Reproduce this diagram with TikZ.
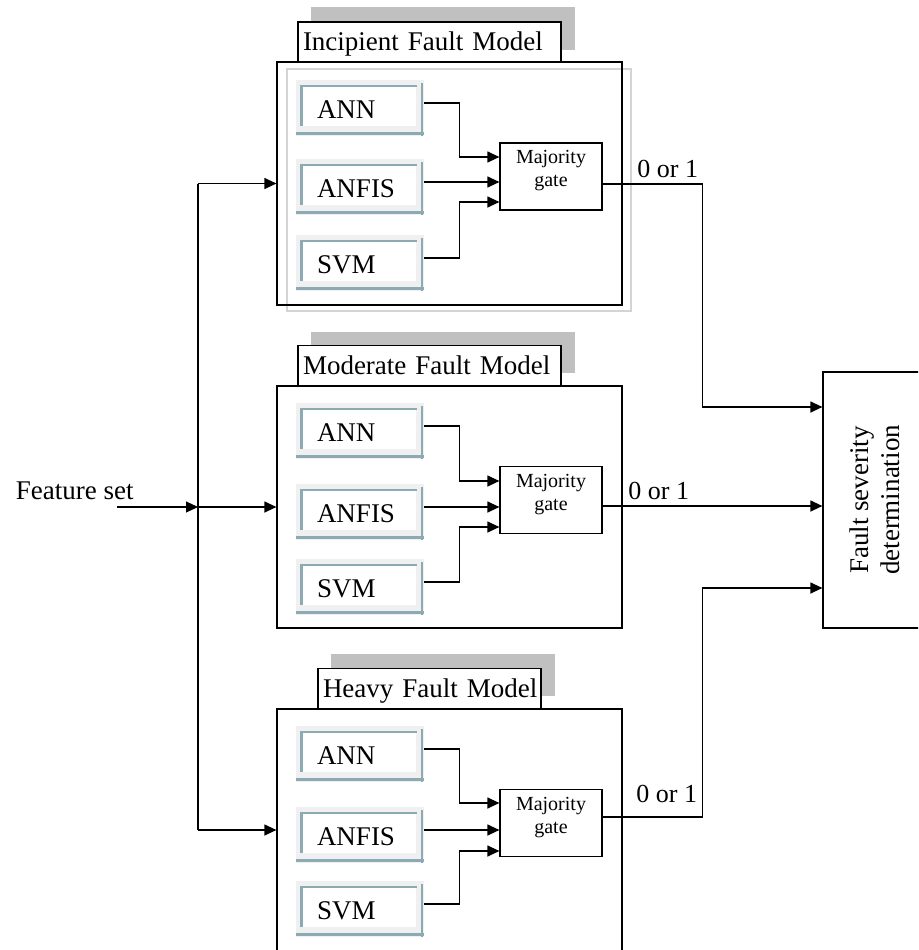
\documentclass[tikz,border=0pt]{standalone}
\usepackage{fontspec}
\setmainfont{Liberation Serif}
\usetikzlibrary{arrows.meta,calc}
\definecolor{shgray}{RGB}{240,240,240}
\definecolor{tealsh}{RGB}{140,170,180}
\definecolor{tgray}{RGB}{192,192,192}
\definecolor{lgray}{RGB}{212,212,212}
\tikzset{
  arr/.style={-{Triangle[length=12pt,width=11pt]}},
  model/.style={fill=white, minimum width=114pt, minimum height=39pt, inner xsep=15pt, inner ysep=0pt,
    text width=84pt, align=left, text height=25pt, text depth=0pt},
  gate/.style={draw, fill=white, minimum width=102pt, minimum height=67pt, inner sep=0pt, align=center,
    font=\fontsize{20}{23}\selectfont, text depth=16pt},
  titlebox/.style={draw, fill=white, minimum height=40pt, inner xsep=5pt, inner ysep=0pt,
    text height=18pt, text depth=0pt, align=left},
  mainbox/.style={draw, minimum width=345pt, inner sep=0pt},
  tealline/.style={tealsh, line width=2.5pt},
  outlbl/.style={anchor=base east, font=\fontsize{26}{30}\selectfont},
}
\newcommand\mdlbox[4]{%
  \fill[shgray] (#2-63,#3-26.5) rectangle (#2+65,#3+29.5);
  \draw[tealline] (#2-63,#3+27.5) -- (#2+65,#3+27.5);
  \draw[tealline] (#2+63,#3-23) -- (#2+63,#3+29.5);
  \node[model] (#1) at (#2,#3) {#4};
  \draw[tealline] (#1.south west) -- (#1.north west) -- (#1.north east);
}
\begin{document}
\begin{tikzpicture}[x=1pt, y=-1pt, line width=1.2pt, font=\fontsize{27}{31}\selectfont]
\useasboundingbox (0,0) rectangle (918,950);
\clip (0,0) rectangle (918,950);

% gray title shadows
\fill[tgray] (311,7) rectangle (575,50);
\fill[tgray] (311,332) rectangle (575,373);
\fill[tgray] (331,654) rectangle (555,696);

% light gray frame of the incipient model
\draw[lgray, line width=1.5pt] (287,69) rectangle (631,311);

% main boxes
\node[mainbox, minimum height=243pt] (mI) at (449.5,183.5) {};
\node[mainbox, minimum height=242pt] (mM) at (449.5,507) {};
\node[mainbox, minimum height=242pt] (mH) at (449.5,830) {};

% title boxes
\node[titlebox, text width=253pt] (tI) at (429.5,42) {\mbox{Incipient Fault Model}};
\node[titlebox, text width=253pt] (tM) at (429.5,365.5) {\mbox{Moderate Fault Model}};
\node[titlebox, text width=213pt] (tH) at (429.5,688.5) {\mbox{Heavy Fault Model}};

% classifier boxes
\mdlbox{annI}{359}{106}{ANN}
\mdlbox{anfisI}{359}{185}{ANFIS}
\mdlbox{svmI}{359}{261}{SVM}
\mdlbox{annM}{359}{429}{ANN}
\mdlbox{anfisM}{359}{510}{ANFIS}
\mdlbox{svmM}{359}{585}{SVM}
\mdlbox{annH}{359}{752}{ANN}
\mdlbox{anfisH}{359}{833}{ANFIS}
\mdlbox{svmH}{359}{907}{SVM}

% majority gates
\node[gate] (gI) at (551,176.5) {Majority\\gate};
\node[gate] (gM) at (551,500) {Majority\\gate};
\node[gate] (gH) at (551,823) {Majority\\gate};

% fault severity box
\node[draw, rotate=90, minimum width=256pt, minimum height=104pt, inner sep=0pt, align=center]
  (fault) at (875,500) {Fault severity\\determination};

% feature set input and bus
\node[anchor=base west] (fs) at (12,499) {Feature set};
\coordinate (fsS) at (117,507);
\coordinate (bus) at (198,507);
\draw[arr] (fsS) -- (bus);
\draw (bus |- mI.west) -- (bus |- mH.west);
\draw[arr] (bus |- mI.west) -- (mI.west);
\draw[arr] (bus) -- (mM.west);
\draw[arr] (bus |- mH.west) -- (mH.west);

% classifier -> gate wires
\draw[arr] ([xshift=7pt,yshift=3pt]annI.east) -| ($(gI.west)+(-40,-19.5)$) -- ($(gI.west)+(0,-19.5)$);
\draw[arr] ([xshift=7pt,yshift=3pt]anfisI.east) -- ($(gI.west)+(0,5.5)$);
\draw[arr] ([xshift=7pt,yshift=3pt]svmI.east) -| ($(gI.west)+(-40,25.5)$) -- ($(gI.west)+(0,25.5)$);

\draw[arr] ([xshift=7pt,yshift=3pt]annM.east) -| ($(gM.west)+(-40,-19)$) -- ($(gM.west)+(0,-19)$);
\draw[arr] ([xshift=7pt,yshift=3pt]anfisM.east) -- ($(gM.west)+(0,7)$);
\draw[arr] ([xshift=7pt,yshift=3pt]svmM.east) -| ($(gM.west)+(-40,27)$) -- ($(gM.west)+(0,27)$);

\draw[arr] ([xshift=7pt,yshift=3pt]annH.east) -| ($(gH.west)+(-40,-20)$) -- ($(gH.west)+(0,-20)$);
\draw[arr] ([xshift=7pt,yshift=3pt]anfisH.east) -- ($(gH.west)+(0,7)$);
\draw[arr] ([xshift=7pt,yshift=3pt]svmH.east) -| ($(gH.west)+(-40,28)$) -- ($(gH.west)+(0,28)$);

% gate -> fault severity
\draw[arr] ([yshift=-7.5pt]gI.east) -- ++(100,0) |- ($(fault.north)+(0,-93)$);
\draw[arr] ([yshift=-6pt]gM.east) -- ($(fault.north)+(0,6)$);
\draw[arr] ([yshift=6pt]gH.east) -- ++(100,0) |- ($(fault.north)+(0,88)$);

% output labels
\node[outlbl] (oI) at (702,177) {0 or 1};
\node[outlbl] (oM) at (693,499) {0 or 1};
\node[outlbl] (oH) at (701,802) {0 or 1};
\end{tikzpicture}
\end{document}
